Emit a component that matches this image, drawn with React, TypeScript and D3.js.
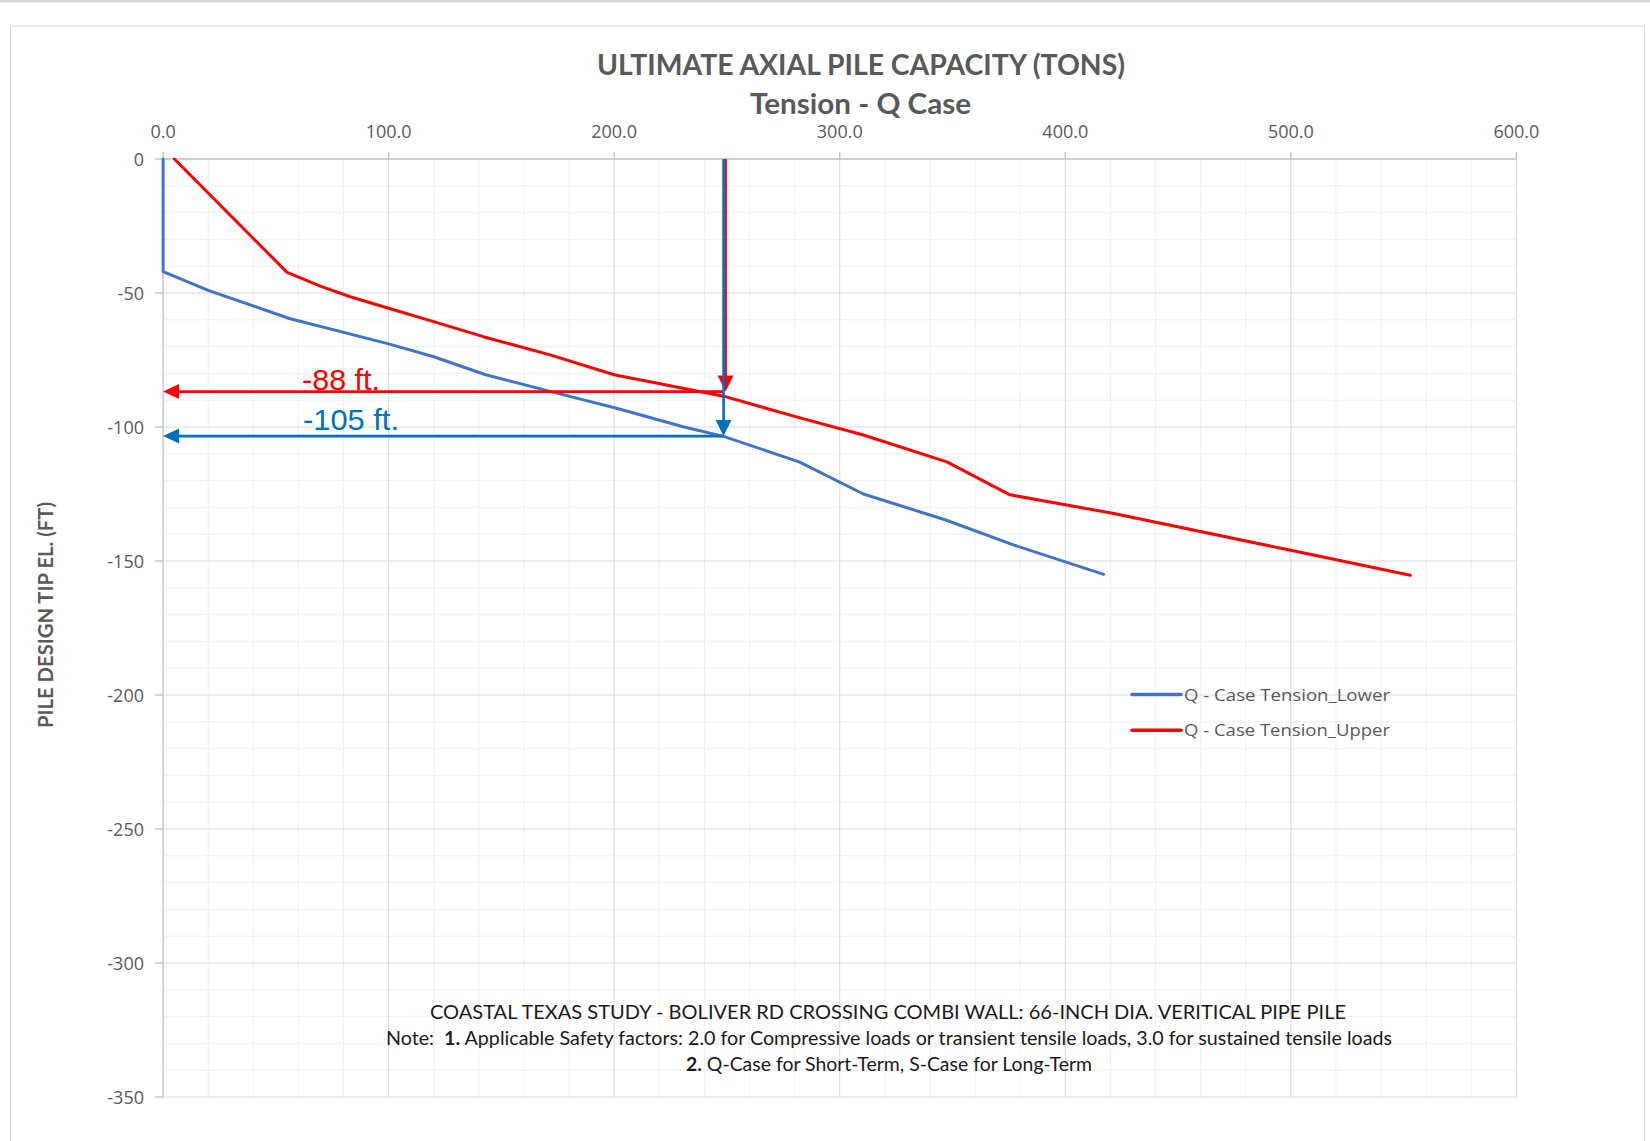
import * as d3 from 'd3';

// series: ultimate capacity (tons) vs pile tip elevation (ft)
const lowerTons = [0, 0, 20, 56, 100, 120, 143, 172, 201, 231, 248.5, 282, 310.5, 347, 377, 417];
const lowerElev = [0, -42, -49, -59.5, -69, -73.8, -80.5, -86.8, -93, -100, -103.5, -113, -125, -134.7, -144, -155];
const upperTons = [5, 55, 70, 83, 100, 120, 142, 172, 200, 248.5, 282, 310.5, 347.5, 375.5, 421, 500, 553];
const upperElev = [0, -42.3, -47.5, -51.4, -55.7, -60.7, -66.3, -73.2, -80.5, -88.5, -96.5, -103, -113, -125.3, -132.2, -146, -155.3];

const seriesNames = ['Q - Case Tension_Lower', 'Q - Case Tension_Upper'];
const seriesColors = ['#4472C4', '#FF0000'];

const xTicks = [0, 100, 200, 300, 400, 500, 600];
const yTicks = [0, -50, -100, -150, -200, -250, -300, -350];

// hand-drawn design tip markers
const markTons = 248.5;
const markElev = [-86.8, -103.4];
const markLabels = ['-88 ft.', '-105 ft.'];
const markColors = ['#FF0000', '#0070C0'];

const notes = [
  'COASTAL TEXAS STUDY - BOLIVER RD CROSSING COMBI WALL: 66-INCH DIA. VERITICAL PIPE PILE',
  'Applicable Safety factors: 2.0 for Compressive loads or transient tensile loads, 3.0 for sustained tensile loads',
  'Q-Case for Short-Term, S-Case for Long-Term',
];

const W = 1650;
const H = 1141;
const x = d3.scaleLinear().domain([0, 600]).range([163.1, 1516.4]);
const y = d3.scaleLinear().domain([0, -350]).range([159, 1097]);

const fmtX = d3.format('.1f');
const fmtY = (v: number) => String(v);

const gray = '#595959';

export default function App() {
  const line = d3.line<[number, number]>().x(d => x(d[0])).y(d => y(d[1]));
  const lower: [number, number][] = lowerTons.map((t, i) => [t, lowerElev[i]]);
  const upper: [number, number][] = upperTons.map((t, i) => [t, upperElev[i]]);

  const minorX = d3.range(0, 601, 20).filter(v => v % 100 !== 0);
  const minorY = d3.range(0, -351, -10).filter(v => v % 50 !== 0);

  const x0 = x(0);
  const vx = x(markTons);

  return (
    <svg width={W} height={H} style={{ position: 'absolute', left: 0, top: 0, background: '#fff' }}>
      <rect x={0} y={0} width={W} height={2.5} fill="#d4d4d4" />
      <rect x={10.5} y={26} width={1634} height={H} fill="#fff" stroke="#d9d9d9" strokeWidth={1} />

      {/* minor grid */}
      <g stroke="#f0f0f0" strokeWidth={1}>
        {minorX.map(v => <line key={'mx' + v} x1={x(v)} x2={x(v)} y1={y(0)} y2={y(-350)} />)}
        {minorY.map(v => <line key={'my' + v} x1={x(0)} x2={x(600)} y1={y(v)} y2={y(v)} />)}
      </g>
      {/* major grid */}
      <g stroke="#d9d9d9" strokeWidth={1}>
        {xTicks.slice(1).map(v => <line key={'gx' + v} x1={x(v)} x2={x(v)} y1={y(0)} y2={y(-350)} />)}
        {yTicks.slice(1).map(v => <line key={'gy' + v} x1={x(0)} x2={x(600)} y1={y(v)} y2={y(v)} />)}
      </g>
      {/* axes */}
      <g stroke="#bfbfbf" strokeWidth={1.3}>
        <line x1={x(0)} x2={x(600)} y1={y(0)} y2={y(0)} />
        <line x1={x(0)} x2={x(0)} y1={y(0)} y2={y(-350)} />
        {xTicks.map(v => <line key={'tx' + v} x1={x(v)} x2={x(v)} y1={y(0) - 7} y2={y(0)} />)}
        {yTicks.map(v => <line key={'ty' + v} x1={x(0) - 8} x2={x(0)} y1={y(v)} y2={y(v)} />)}
      </g>

      <g fontFamily="'Open Sans', sans-serif" fontSize={18} fill={gray}>
        {xTicks.map(v => (
          <text key={'lx' + v} x={x(v)} y={138} textAnchor="middle">{fmtX(v)}</text>
        ))}
        {yTicks.map(v => (
          <text key={'ly' + v} x={144} y={y(v) + 6.5} textAnchor="end">{fmtY(v)}</text>
        ))}
      </g>

      {/* titles */}
      <g fontFamily="Lato, sans-serif" fontWeight={700} fill={gray}>
        <text x={597} y={75} fontSize={29} textLength={528} lengthAdjust="spacingAndGlyphs">
          ULTIMATE AXIAL PILE CAPACITY (TONS)
        </text>
        <text x={750} y={113.5} fontSize={29} textLength={221} lengthAdjust="spacingAndGlyphs">
          Tension - Q Case
        </text>
        <text transform="translate(53,615) rotate(-90)" textAnchor="middle" fontSize={20}
          textLength={226} lengthAdjust="spacingAndGlyphs">
          PILE DESIGN TIP EL. (FT)
        </text>
      </g>

      {/* series */}
      <path d={line(lower) || ''} fill="none" stroke={seriesColors[0]} strokeWidth={3} strokeLinejoin="round" strokeLinecap="round" />
      <path d={line(upper) || ''} fill="none" stroke={seriesColors[1]} strokeWidth={3} strokeLinejoin="round" strokeLinecap="round" />

      {/* design tip markers */}
      {markElev.map((e, i) => {
        const c = markColors[i];
        const lx = i === 0 ? vx + 2 : vx;
        const ty = y(e);
        return (
          <g key={'m' + i}>
            <line x1={lx} x2={lx} y1={y(0)} y2={ty - 14} stroke={c} strokeWidth={2.6} />
            <path d={`M${lx - 8},${ty - 16}L${lx + 8},${ty - 16}L${lx},${ty}Z`} fill={c} />
            <line x1={vx} x2={x0 + 14} y1={ty} y2={ty} stroke={c} strokeWidth={2.6} />
            <path d={`M${x0},${ty}L${x0 + 16},${ty - 7.5}L${x0 + 16},${ty + 7.5}Z`} fill={c} />
          </g>
        );
      })}
      <g fontFamily="'Liberation Sans', Arial, sans-serif" fontSize={30}>
        <text x={302} y={390} fill={markColors[0]} textLength={78} lengthAdjust="spacingAndGlyphs">{markLabels[0]}</text>
        <text x={303} y={429.5} fill={markColors[1]} textLength={96} lengthAdjust="spacingAndGlyphs">{markLabels[1]}</text>
      </g>

      {/* legend */}
      {seriesNames.map((n, i) => {
        const ly = 694.5 + i * 35.8;
        return (
          <g key={'lg' + i}>
            <line x1={1132} x2={1181} y1={ly} y2={ly} stroke={seriesColors[i]} strokeWidth={3.5} strokeLinecap="round" />
            <text x={1184} y={ly + 6} fontFamily="'Open Sans', sans-serif" fontSize={17} fill={gray}
              textLength={206} lengthAdjust="spacingAndGlyphs">{n}</text>
          </g>
        );
      })}

      {/* notes */}
      <g fontFamily="Lato, sans-serif" fontSize={18.5} fill="#1a1a1a">
        <text x={430} y={1019} textLength={916} lengthAdjust="spacingAndGlyphs">{notes[0]}</text>
        <text x={386} y={1045} textLength={1006} lengthAdjust="spacingAndGlyphs">
          {'Note:\u00a0 '}<tspan fontWeight={700}>1.</tspan> {notes[1]}
        </text>
        <text x={686} y={1070.5} textLength={406} lengthAdjust="spacingAndGlyphs">
          <tspan fontWeight={700}>2.</tspan> {notes[2]}
        </text>
      </g>
    </svg>
  );
}
